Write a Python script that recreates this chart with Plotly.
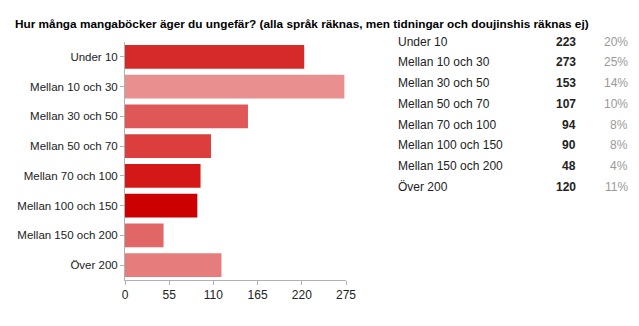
import plotly.graph_objects as go

# Survey answers: how many manga books do you own?
categories = [
    "Under 10",
    "Mellan 10 och 30",
    "Mellan 30 och 50",
    "Mellan 50 och 70",
    "Mellan 70 och 100",
    "Mellan 100 och 150",
    "Mellan 150 och 200",
    "Över 200",
]
counts = [223, 273, 153, 107, 94, 90, 48, 120]
bar_colors = [
    "#d62a2a", "#e98f8f", "#e05757", "#dc3e3e",
    "#d41818", "#cc0000", "#e16767", "#e67c7c",
]
x_ticks = [0, 55, 110, 165, 220, 275]

title_text = ("Hur många mangaböcker äger du ungefär? "
              "(alla språk räknas, men tidningar och doujinshis räknas ej)")

total = sum(counts)
percents = [round(100 * c / total) for c in counts]

W, H = 639, 326
ML, MR, MT, MB = 125, 293, 42, 46
PW = W - ML - MR
PH = H - MT - MB
FONT = "Liberation Sans, Arial, sans-serif"


def px(x):
    return (x - ML) / PW


def py(y):
    return (H - MB - y) / PH


fig = go.Figure(
    go.Bar(
        x=counts,
        y=categories,
        orientation="h",
        marker=dict(color=bar_colors, line=dict(width=0)),
        hoverinfo="x+y",
    )
)

annotations = [
    dict(text=f"<b>{title_text}</b>", x=px(13), y=py(24), xref="paper", yref="paper",
         xanchor="left", yanchor="middle", showarrow=False,
         font=dict(family=FONT, size=11.8, color="#000000"))
]

row_y0, row_step = 41.7, 20.72
for i, (cat, cnt, pct) in enumerate(zip(categories, counts, percents)):
    yy = py(row_y0 + i * row_step)
    annotations.append(dict(text=cat, x=px(396), y=yy, xref="paper", yref="paper",
                            xanchor="left", yanchor="middle", showarrow=False,
                            font=dict(family=FONT, size=12, color="#222222")))
    annotations.append(dict(text=f"<b>{cnt}</b>", x=px(578), y=yy, xref="paper", yref="paper",
                            xanchor="right", yanchor="middle", showarrow=False,
                            font=dict(family=FONT, size=12, color="#222222")))
    annotations.append(dict(text=f"{pct}%", x=px(630), y=yy, xref="paper", yref="paper",
                            xanchor="right", yanchor="middle", showarrow=False,
                            font=dict(family=FONT, size=12, color="#999999")))

fig.update_layout(
    width=W, height=H, autosize=False,
    margin=dict(l=ML, r=MR, t=MT, b=MB, pad=0),
    paper_bgcolor="white", plot_bgcolor="white",
    bargap=0.2,
    showlegend=False,
    font=dict(family=FONT, size=12, color="#222222"),
    annotations=annotations,
    xaxis=dict(
        range=[0, 275], tickvals=x_ticks, showgrid=False, zeroline=False,
        showline=True, linecolor="#b0b0b0", linewidth=1,
        ticks="outside", ticklen=4, tickcolor="#b0b0b0",
        tickfont=dict(family=FONT, size=12, color="#222222"),
        fixedrange=True,
    ),
    yaxis=dict(
        autorange="reversed", showgrid=False, zeroline=False,
        showline=True, linecolor="#b0b0b0", linewidth=1,
        ticks="outside", ticklen=4, tickcolor="#b0b0b0",
        tickfont=dict(family=FONT, size=11.5, color="#222222"),
        fixedrange=True,
    ),
)

fig.write_html("out.html")
